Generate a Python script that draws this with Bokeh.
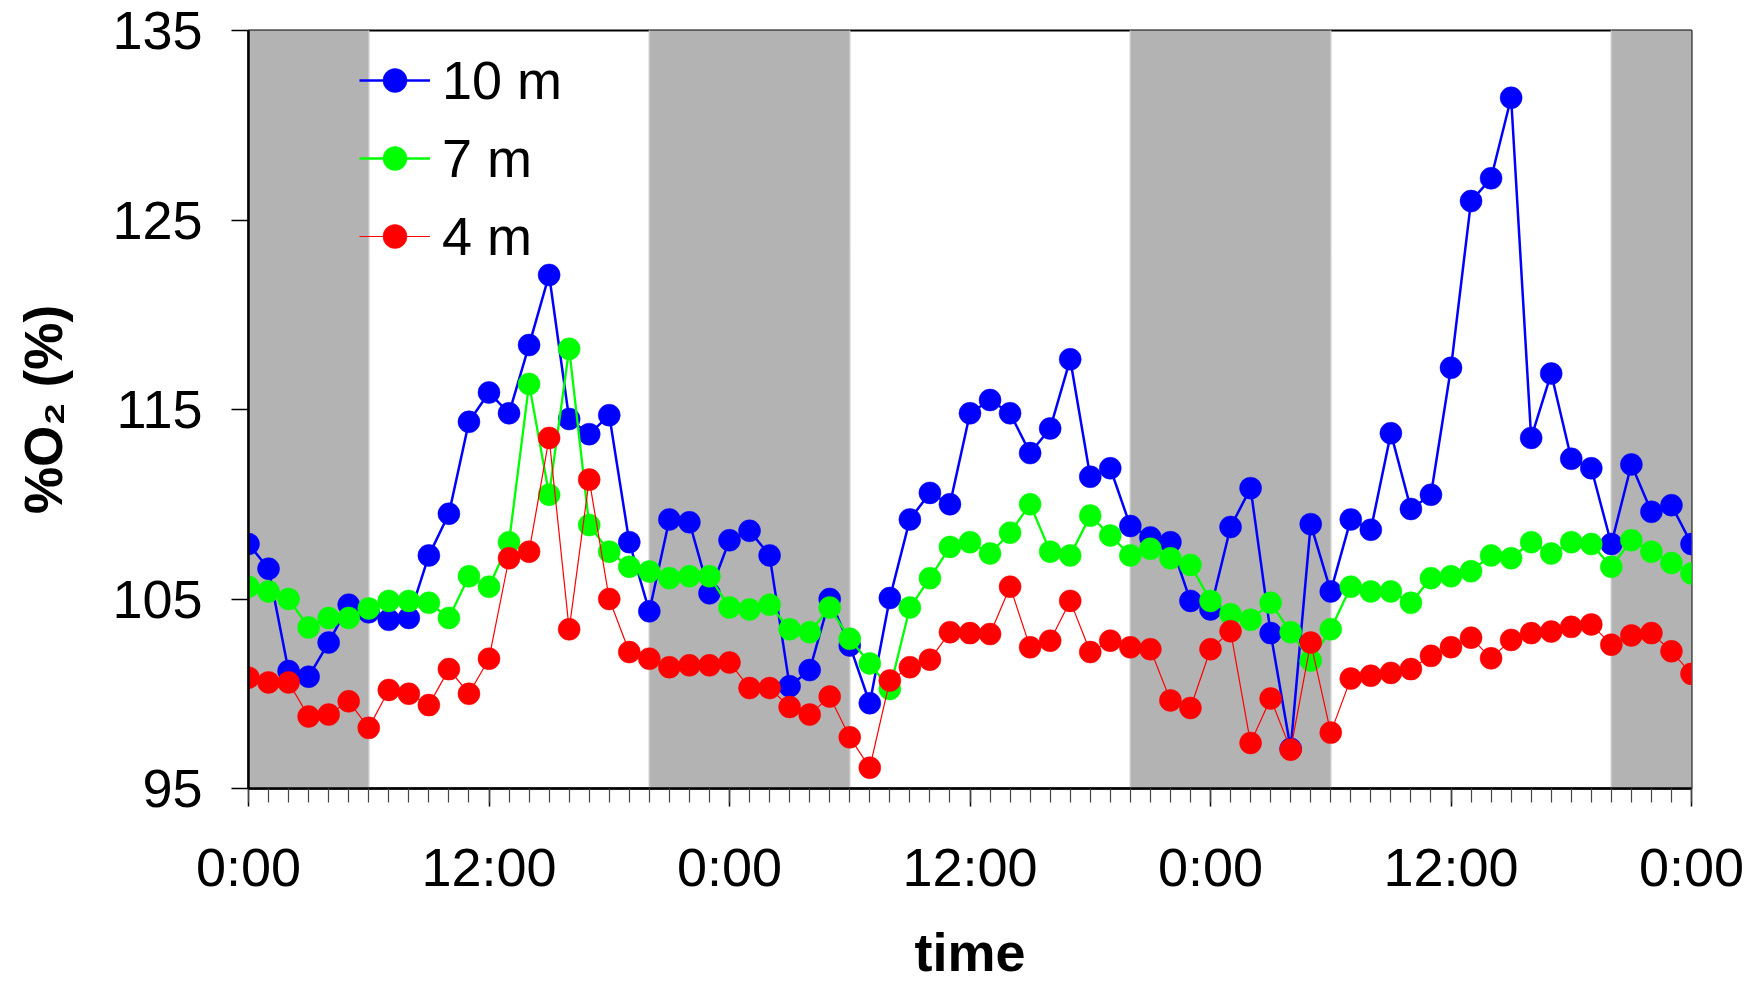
from bokeh.plotting import figure
from bokeh.models import Range1d, FixedTicker, Legend, LegendItem
from bokeh.embed import file_html
from bokeh.resources import INLINE

# ---- data -------------------------------------------------------------
hours = list(range(73))  # hourly samples over three days

do_10m = [107.9, 106.6, 101.2, 100.9, 102.7, 104.7, 104.3, 103.9, 104.0, 107.3,
          109.5, 114.35, 115.9, 114.8, 118.4, 122.1, 114.5, 113.7, 114.7, 108.0,
          104.35, 109.2, 109.05, 105.3, 108.1, 108.6, 107.3, 100.4, 101.25, 105.0,
          102.55, 99.5, 105.05, 109.2, 110.6, 110.0, 114.8, 115.5, 114.8, 112.7,
          114.0, 117.65, 111.45, 111.9, 108.85, 108.25, 108.0, 104.9, 104.45, 108.8,
          110.85, 103.2, 97.1, 108.95, 105.4, 109.2, 108.65, 113.75, 109.75, 110.5,
          117.2, 126.0, 127.2, 131.45, 113.5, 116.9, 112.4, 111.9, 107.9, 112.1,
          109.6, 109.95, 107.9]

do_7m = [105.65, 105.4, 105.0, 103.5, 104.0, 104.0, 104.5, 104.9, 104.9, 104.8,
         104.0, 106.2, 105.65, 108.0, 116.35, 110.5, 118.2, 108.9, 107.5, 106.7,
         106.45, 106.1, 106.2, 106.2, 104.55, 104.45, 104.7, 103.4, 103.25, 104.55,
         102.9, 101.6, 100.25, 104.55, 106.1, 107.75, 108.0, 107.4, 108.5, 110.0,
         107.5, 107.3, 109.4, 108.35, 107.3, 107.65, 107.15, 106.8, 104.9, 104.2,
         103.9, 104.8, 103.25, 101.75, 103.4, 105.65, 105.4, 105.4, 104.8, 106.1,
         106.2, 106.47, 107.3, 107.15, 108.0, 107.4, 108.0, 107.9, 106.7, 108.1,
         107.5, 106.9, 106.35]

do_4m = [100.85, 100.6, 100.6, 98.8, 98.9, 99.6, 98.2, 100.2, 100.0, 99.4,
         101.3, 100.0, 101.85, 107.15, 107.5, 113.5, 103.4, 111.3, 105.0, 102.2,
         101.85, 101.4, 101.5, 101.5, 101.65, 100.3, 100.3, 99.3, 98.9, 99.85,
         97.7, 96.1, 100.7, 101.4, 101.8, 103.25, 103.2, 103.15, 105.65, 102.45,
         102.8, 104.9, 102.2, 102.8, 102.45, 102.35, 99.65, 99.25, 102.35, 103.3,
         97.4, 99.75, 97.05, 102.7, 97.95, 100.8, 100.95, 101.1, 101.3, 102.0,
         102.46, 102.96, 101.87, 102.84, 103.2, 103.28, 103.53, 103.66, 102.59, 103.08,
         103.2, 102.24, 101.05]

series_names = ["10 m", "7 m", "4 m"]

x_tick_hours = [0, 12, 24, 36, 48, 60, 72]
x_tick_labels = ["0:00", "12:00", "0:00", "12:00", "0:00", "12:00", "0:00"]
y_ticks = [95, 105, 115, 125, 135]

night_start = [-4, 20, 44, 68]
night_end = [6, 30, 54, 78]

# ---- figure -----------------------------------------------------------
FONT = "Liberation Sans"

p = figure(width=1750, height=985,
           x_range=Range1d(0, 72), y_range=Range1d(95, 135),
           output_backend="svg", toolbar_location=None,
           min_border_left=248, min_border_right=59,
           min_border_top=30, min_border_bottom=197)

p.background_fill_color = "white"
p.border_fill_color = "white"
p.xgrid.visible = False
p.ygrid.visible = False
p.outline_line_color = "black"
p.outline_line_width = 2
p.outline_line_alpha = 1.0

# night shading
p.quad(left=night_start, right=night_end, bottom=94, top=136,
       fill_color="#b3b3b3", line_color="#c8c8c8", line_width=1.5)

colors = ["#0000ff", "#00ff00", "#ff0000"]
widths = [2.5, 2.3, 1.2]
items = []
for name, vals, c, w in zip(series_names, [do_10m, do_7m, do_4m], colors, widths):
    ln = p.line(hours, vals, line_color=c, line_width=w)
    sc = p.scatter(hours, vals, size=22, fill_color=c, line_color=c, line_width=0.5)
    items.append(LegendItem(label=name, renderers=[ln, sc]))

# ---- axes -------------------------------------------------------------
xa = p.xaxis[0]
xa.ticker = FixedTicker(ticks=x_tick_hours, minor_ticks=hours)
xa.major_label_overrides = {h: l for h, l in zip(x_tick_hours, x_tick_labels)}
xa.axis_line_color = "black"
xa.axis_line_width = 2.5
xa.major_tick_in = 0
xa.major_tick_out = 18
xa.major_tick_line_width = 1.5
xa.major_tick_line_color = "black"
xa.minor_tick_in = 0
xa.minor_tick_out = 14
xa.minor_tick_line_width = 1.2
xa.minor_tick_line_color = "#444444"
xa.major_label_text_font = FONT
xa.major_label_text_font_size = "54px"
xa.major_label_text_color = "black"
xa.major_label_standoff = 30
xa.axis_label = "time"
xa.axis_label_text_font = FONT
xa.axis_label_text_font_style = "bold"
xa.axis_label_text_font_size = "54px"
xa.axis_label_text_color = "black"
xa.axis_label_standoff = 22

ya = p.yaxis[0]
ya.ticker = FixedTicker(ticks=y_ticks)
ya.axis_line_color = "black"
ya.axis_line_width = 2.5
ya.major_tick_in = 0
ya.major_tick_out = 17
ya.major_tick_line_width = 1.5
ya.major_tick_line_color = "black"
ya.minor_tick_line_color = None
ya.major_label_text_font = FONT
ya.major_label_text_font_size = "54px"
ya.major_label_text_color = "black"
ya.major_label_standoff = 29
ya.axis_label = "%O\u2082 (%)"
ya.axis_label_text_font = FONT
ya.axis_label_text_font_style = "bold"
ya.axis_label_text_font_size = "53px"
ya.axis_label_text_color = "black"
ya.axis_label_standoff = 36

# ---- legend -----------------------------------------------------------
legend = Legend(items=items, location=(111, 521),
                glyph_width=71, glyph_height=60, label_height=60,
                spacing=16, label_standoff=12, padding=0, margin=0,
                border_line_color=None, background_fill_alpha=0,
                label_text_font=FONT, label_text_font_size="54px",
                label_text_color="black")
p.add_layout(legend)

open("out.html", "w").write(file_html(p, INLINE))
